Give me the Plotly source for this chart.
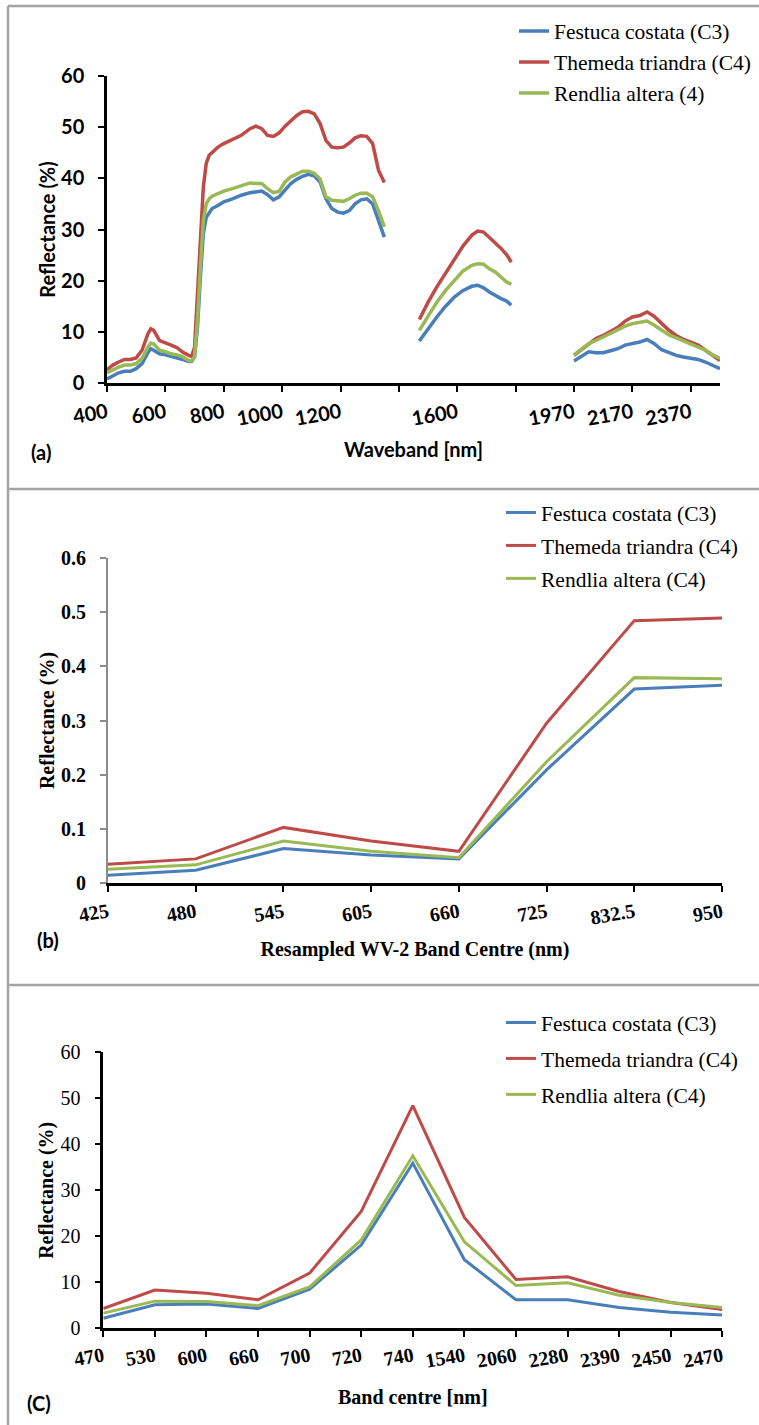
import plotly.graph_objects as go

W, H = 759, 1425

# ---------------- Panel (a): hyperspectral reflectance ----------------
wl_seg1 = [400, 420, 440, 460, 480, 500, 520, 540, 550, 560, 580, 600, 620, 640, 660, 680, 690, 700,
           710, 720, 730, 740, 750, 760, 780, 800, 830, 860, 890, 910, 930, 950, 970, 990, 1010,
           1030, 1050, 1070, 1090, 1110, 1130, 1150, 1170, 1190, 1210, 1230, 1250, 1270, 1290,
           1310, 1330, 1350]
fest_seg1 = [0.8, 1.5, 2.0, 2.3, 2.3, 2.8, 3.8, 5.9, 6.7, 6.4, 5.7, 5.5, 5.2, 5.0, 4.6, 4.2, 4.2, 5.1,
             10.9, 20.7, 29.2, 32.4, 33.4, 34.1, 34.7, 35.4, 36.0, 36.7, 37.2, 37.3, 37.5, 36.8, 35.8,
             36.4, 37.7, 39.0, 39.8, 40.4, 40.8, 40.5, 39.3, 36.0, 34.1, 33.4, 33.2, 33.7, 35.0, 35.8,
             36.0, 35.0, 31.8, 28.5]
them_seg1 = [2.6, 3.5, 4.1, 4.6, 4.6, 4.9, 6.4, 9.6, 10.6, 10.3, 8.3, 7.9, 7.4, 6.9, 6.0, 5.4, 5.2, 7.0,
             16.2, 27.9, 38.3, 42.9, 44.5, 45.1, 46.1, 46.8, 47.6, 48.4, 49.7, 50.2, 49.7, 48.4, 48.2,
             48.9, 50.2, 51.3, 52.3, 53.0, 53.1, 52.6, 50.7, 47.4, 46.1, 46.0, 46.1, 46.9, 47.9, 48.3,
             48.2, 46.8, 41.6, 39.2]
rend_seg1 = [2.0, 2.6, 3.1, 3.5, 3.5, 3.8, 4.8, 7.0, 7.8, 7.6, 6.4, 6.1, 5.7, 5.5, 5.1, 4.4, 4.3, 5.2,
             12.2, 22.7, 31.8, 35.0, 36.0, 36.5, 37.0, 37.5, 38.0, 38.6, 39.1, 39.0, 39.0, 38.0, 37.2,
             37.5, 39.3, 40.3, 40.9, 41.4, 41.4, 41.0, 39.9, 36.4, 35.7, 35.6, 35.5, 36.0, 36.7, 37.1,
             37.1, 36.4, 33.7, 30.5]

wl_seg2 = [1470, 1500, 1530, 1560, 1590, 1620, 1650, 1670, 1690, 1710, 1730, 1750, 1770, 1785]
fest_seg2 = [8.2, 10.6, 12.9, 15.0, 16.8, 18.1, 18.9, 19.1, 18.6, 17.8, 17.1, 16.5, 16.0, 15.2]
them_seg2 = [12.4, 15.8, 18.8, 21.4, 24.3, 26.8, 28.9, 29.7, 29.5, 28.5, 27.4, 26.3, 25.0, 23.6]
rend_seg2 = [10.3, 13.2, 15.8, 18.1, 20.1, 21.9, 23.0, 23.3, 23.2, 22.3, 21.7, 20.8, 19.7, 19.3]

wl_seg3 = [2000, 2025, 2050, 2075, 2100, 2125, 2150, 2175, 2200, 2225, 2250, 2275, 2300, 2325,
           2350, 2375, 2400, 2425, 2450, 2475, 2500]
fest_seg3 = [4.3, 5.2, 6.1, 5.9, 5.9, 6.3, 6.7, 7.4, 7.7, 8.0, 8.5, 7.7, 6.5, 5.9, 5.4, 5.1, 4.8,
             4.6, 4.1, 3.5, 2.8]
them_seg3 = [5.4, 6.5, 7.7, 8.7, 9.3, 10.1, 10.9, 12.1, 12.9, 13.2, 13.9, 13.0, 11.6, 10.3, 9.3,
             8.5, 8.0, 7.4, 6.4, 5.4, 4.4]
rend_seg3 = [5.5, 6.7, 7.7, 8.3, 9.0, 9.6, 10.3, 11.1, 11.6, 11.8, 12.1, 11.3, 10.3, 9.4, 8.8,
             8.2, 7.7, 7.0, 6.4, 5.5, 4.8]

a_tickvals = [400, 600, 800, 1000, 1200, 1400, 1600, 1800, 2000, 2200, 2400]
a_ticktext = ["400", "600", "800", "1000", "1200", "", "1600", "", "1970", "2170", "2370"]
a_names = ["Festuca costata (C3)", "Themeda triandra (C4)", "Rendlia altera (4)"]

# ---------------- Panel (b): resampled WV-2 ----------------
bands_b = ["425", "480", "545", "605", "660", "725", "832.5", "950"]
fest_b = [0.015, 0.024, 0.064, 0.052, 0.045, 0.209, 0.358, 0.365]
them_b = [0.035, 0.045, 0.103, 0.078, 0.059, 0.295, 0.484, 0.489]
rend_b = [0.026, 0.034, 0.078, 0.059, 0.047, 0.224, 0.379, 0.377]

# ---------------- Panel (c): band centres ----------------
bands_c = ["470", "530", "600", "660", "700", "720", "740", "1540", "2060", "2280", "2390", "2450", "2470"]
fest_c = [2.2, 5.1, 5.3, 4.3, 8.5, 18.1, 35.9, 14.9, 6.2, 6.2, 4.5, 3.5, 2.9]
them_c = [4.3, 8.3, 7.6, 6.2, 12.0, 25.4, 48.4, 24.1, 10.6, 11.2, 8.0, 5.6, 4.1]
rend_c = [3.3, 5.9, 5.8, 4.9, 9.0, 19.2, 37.5, 18.8, 9.3, 9.9, 7.2, 5.6, 4.5]
bc_names = ["Festuca costata (C3)", "Themeda triandra (C4)", "Rendlia altera (C4)"]

colors = ["#4A7EBB", "#BE4B48", "#98B954"]


def px_x(p):
    return p / W


def px_y(p):
    return 1 - p / H


def join(*segs):
    out = []
    for i, s in enumerate(segs):
        if i:
            out.append(None)
        out.extend(s)
    return out


SANS = "Lato"
SERIF = "Liberation Serif"

fig = go.Figure()

wl_all = join(wl_seg1, wl_seg2, wl_seg3)
series_a = [join(fest_seg1, fest_seg2, fest_seg3),
            join(them_seg1, them_seg2, them_seg3),
            join(rend_seg1, rend_seg2, rend_seg3)]
for i in range(3):
    fig.add_trace(go.Scatter(x=wl_all, y=series_a[i], mode="lines", name=a_names[i],
                             line=dict(color=colors[i], width=3.5), connectgaps=False,
                             xaxis="x", yaxis="y", legend="legend", legendgroup="a%d" % i))

for i, ys in enumerate([fest_b, them_b, rend_b]):
    fig.add_trace(go.Scatter(x=bands_b, y=ys, mode="lines", name=bc_names[i],
                             line=dict(color=colors[i], width=3),
                             xaxis="x2", yaxis="y2", legend="legend2", legendgroup="b%d" % i))

for i, ys in enumerate([fest_c, them_c, rend_c]):
    fig.add_trace(go.Scatter(x=bands_c, y=ys, mode="lines", name=bc_names[i],
                             line=dict(color=colors[i], width=3),
                             xaxis="x3", yaxis="y3", legend="legend3", legendgroup="c%d" % i))

axis_common = dict(showgrid=False, zeroline=False, showline=True, ticks="outside",
                   ticklen=6, tickwidth=2, mirror=False)

fig.update_layout(
    width=W, height=H, autosize=False,
    margin=dict(l=0, r=0, t=0, b=0, autoexpand=False),
    paper_bgcolor="white", plot_bgcolor="white",
    showlegend=True,
    # panel a
    xaxis=dict(axis_common, domain=[px_x(107), px_x(720)], anchor="y", range=[400, 2500],
               tickvals=a_tickvals, ticktext=a_ticktext, tickangle=-10,
               linecolor="black", linewidth=2.5, tickcolor="black", ticklabelstandoff=2,
               tickfont=dict(family=SANS, size=20, color="black", weight="bold"),
               title=dict(text="Waveband [nm]", standoff=15,
                          font=dict(family=SANS, size=20, color="black", weight="bold"))),
    yaxis=dict(axis_common, domain=[px_y(383), px_y(76)], anchor="x", range=[0, 60],
               tickvals=[0, 10, 20, 30, 40, 50, 60],
               linecolor="black", linewidth=2.5, tickcolor="black", ticklabelstandoff=10,
               tickfont=dict(family=SANS, size=20, color="black", weight="bold"),
               title=dict(text="Reflectance (%)", standoff=1,
                          font=dict(family=SANS, size=20, color="black", weight="bold"))),
    # panel b
    xaxis2=dict(axis_common, domain=[px_x(108), px_x(722)], anchor="y2", type="category",
                categoryorder="array", categoryarray=bands_b, range=[0, len(bands_b) - 1],
                tickangle=-10, linecolor="black", linewidth=2.5, tickcolor="black",
                ticklabelstandoff=1,
                tickfont=dict(family=SERIF, size=20, color="black", weight="bold"),
                title=dict(text="Resampled WV-2 Band Centre (nm)", standoff=15,
                           font=dict(family=SERIF, size=20, color="black", weight="bold"))),
    yaxis2=dict(axis_common, domain=[px_y(883.3), px_y(557.7)], anchor="x2", range=[0, 0.6],
                tickvals=[0, 0.1, 0.2, 0.3, 0.4, 0.5, 0.6],
                ticktext=["0", "0.1", "0.2", "0.3", "0.4", "0.5", "0.6"],
                linecolor="#8C8C8C", linewidth=2, tickcolor="#8C8C8C", ticklabelstandoff=10,
                tickfont=dict(family=SERIF, size=20, color="black", weight="bold"),
                title=dict(text="Reflectance (%)", standoff=1,
                           font=dict(family=SERIF, size=20, color="black", weight="bold"))),
    # panel c
    xaxis3=dict(axis_common, domain=[px_x(103.3), px_x(722.3)], anchor="y3", type="category",
                categoryorder="array", categoryarray=bands_c, range=[0, len(bands_c) - 1],
                tickangle=-10, linecolor="black", linewidth=2.5, tickcolor="black",
                ticklabelstandoff=0,
                tickfont=dict(family=SERIF, size=20, color="black", weight="bold"),
                title=dict(text="Band centre [nm]", standoff=20,
                           font=dict(family=SERIF, size=20, color="black", weight="bold"))),
    yaxis3=dict(axis_common, domain=[px_y(1328.3), px_y(1052.3)], anchor="x3", range=[0, 60],
                tickvals=[0, 10, 20, 30, 40, 50, 60],
                linecolor="black", linewidth=2.5, tickcolor="black", ticklabelstandoff=10,
                tickfont=dict(family=SERIF, size=20, color="black"),
                title=dict(text="Reflectance (%)", standoff=2,
                           font=dict(family=SERIF, size=20, color="black", weight="bold"))),
    legend=dict(x=px_x(514), y=px_y(10.5), xanchor="left", yanchor="top",
                bgcolor="rgba(0,0,0,0)", tracegroupgap=0,
                font=dict(family=SERIF, size=21.5, color="black")),
    legend2=dict(x=px_x(501), y=px_y(492), xanchor="left", yanchor="top",
                 bgcolor="rgba(0,0,0,0)", tracegroupgap=2,
                 font=dict(family=SERIF, size=21.5, color="black")),
    legend3=dict(x=px_x(501), y=px_y(1002), xanchor="left", yanchor="top",
                 bgcolor="rgba(0,0,0,0)", tracegroupgap=5,
                 font=dict(family=SERIF, size=21.5, color="black")),
)

# panel frames
frame = dict(type="line", xref="paper", yref="paper", line=dict(color="#A3A3A3", width=2.5))
fig.add_shape(frame, x0=px_x(8), x1=px_x(8), y0=px_y(6), y1=0)
for yy in [6, 489, 985]:
    fig.add_shape(frame, x0=px_x(8), x1=1, y0=px_y(yy), y1=px_y(yy))

# panel labels
for lbl, xx, yy in [("(a)", 41, 452), ("(b)", 48, 940), ("(C)", 39, 1403)]:
    fig.add_annotation(text=lbl, x=px_x(xx), y=px_y(yy), xref="paper", yref="paper",
                       showarrow=False, xanchor="center", yanchor="middle",
                       font=dict(family=SANS, size=20, color="black", weight="bold"))

fig.write_html("out.html", config={"displayModeBar": False},
               post_script="document.body.style.margin='0';")
